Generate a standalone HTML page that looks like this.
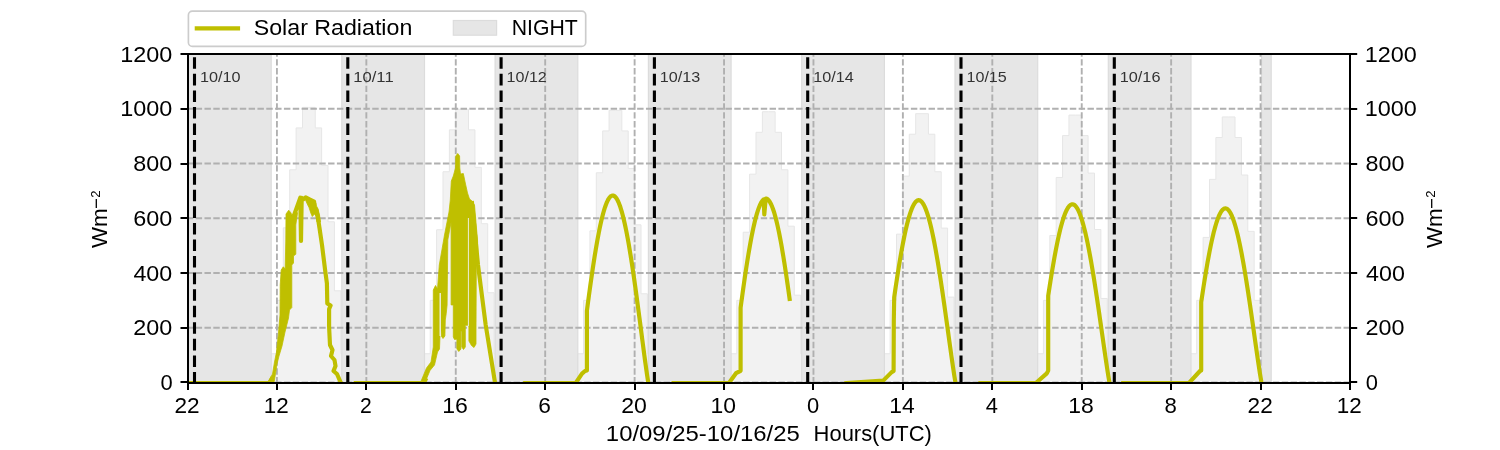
<!DOCTYPE html>
<html><head><meta charset="utf-8"><style>
html,body{margin:0;padding:0;background:#fff;width:1500px;height:450px;overflow:hidden;}
svg{display:block;will-change:transform;font-family:"Liberation Sans", sans-serif;}
</style></head><body>
<svg width="1500" height="450" viewBox="0 0 1500 450">
<rect x="0" y="0" width="1500" height="450" fill="#ffffff"/>
<defs><clipPath id="ax"><rect x="187.50" y="54.00" width="1162.50" height="328.50"/></clipPath></defs>
<g clip-path="url(#ax)">
<path d="M270.54,382.50 L270.54,353.76 L276.92,353.76 L276.92,300.38 L283.31,300.38 L283.31,227.83 L289.70,227.83 L289.70,169.80 L296.09,169.80 L296.09,127.91 L302.47,127.91 L302.47,107.38 L308.86,107.38 L308.86,107.38 L315.25,107.38 L315.25,127.91 L321.63,127.91 L321.63,165.42 L328.02,165.42 L328.02,221.81 L334.41,221.81 L334.41,290.79 L340.80,290.79 L340.80,353.76 L347.18,353.76 L347.18,382.50 Z" fill="#f2f2f2" stroke="#e6e6e6" stroke-width="1"/>
<path d="M423.83,382.50 L423.83,353.76 L430.22,353.76 L430.22,300.38 L436.61,300.38 L436.61,229.75 L442.99,229.75 L442.99,171.71 L449.38,171.71 L449.38,129.83 L455.77,129.83 L455.77,109.30 L462.16,109.30 L462.16,109.30 L468.54,109.30 L468.54,129.83 L474.93,129.83 L474.93,167.33 L481.32,167.33 L481.32,223.72 L487.71,223.72 L487.71,292.71 L494.09,292.71 L494.09,353.76 L500.48,353.76 L500.48,382.50 Z" fill="#f2f2f2" stroke="#e6e6e6" stroke-width="1"/>
<path d="M577.13,382.50 L577.13,353.76 L583.52,353.76 L583.52,300.38 L589.90,300.38 L589.90,230.84 L596.29,230.84 L596.29,172.81 L602.68,172.81 L602.68,130.92 L609.07,130.92 L609.07,110.39 L615.45,110.39 L615.45,110.39 L621.84,110.39 L621.84,130.92 L628.23,130.92 L628.23,168.43 L634.62,168.43 L634.62,224.82 L641.00,224.82 L641.00,293.81 L647.39,293.81 L647.39,353.76 L653.78,353.76 L653.78,382.50 Z" fill="#f2f2f2" stroke="#e6e6e6" stroke-width="1"/>
<path d="M730.43,382.50 L730.43,353.76 L736.81,353.76 L736.81,300.38 L743.20,300.38 L743.20,232.21 L749.59,232.21 L749.59,174.18 L755.98,174.18 L755.98,132.29 L762.36,132.29 L762.36,111.76 L768.75,111.76 L768.75,111.76 L775.14,111.76 L775.14,132.29 L781.52,132.29 L781.52,169.80 L787.91,169.80 L787.91,226.19 L794.30,226.19 L794.30,295.17 L800.69,295.17 L800.69,353.76 L807.07,353.76 L807.07,382.50 Z" fill="#f2f2f2" stroke="#e6e6e6" stroke-width="1"/>
<path d="M883.72,382.50 L883.72,353.76 L890.11,353.76 L890.11,300.38 L896.50,300.38 L896.50,234.13 L902.88,234.13 L902.88,176.09 L909.27,176.09 L909.27,134.21 L915.66,134.21 L915.66,113.68 L922.05,113.68 L922.05,113.68 L928.43,113.68 L928.43,134.21 L934.82,134.21 L934.82,171.71 L941.21,171.71 L941.21,228.10 L947.60,228.10 L947.60,297.09 L953.98,297.09 L953.98,353.76 L960.37,353.76 L960.37,382.50 Z" fill="#f2f2f2" stroke="#e6e6e6" stroke-width="1"/>
<path d="M1037.02,382.50 L1037.02,353.76 L1043.41,353.76 L1043.41,300.38 L1049.79,300.38 L1049.79,235.50 L1056.18,235.50 L1056.18,177.46 L1062.57,177.46 L1062.57,135.58 L1068.96,135.58 L1068.96,115.05 L1075.34,115.05 L1075.34,115.05 L1081.73,115.05 L1081.73,135.58 L1088.12,135.58 L1088.12,173.08 L1094.51,173.08 L1094.51,229.47 L1100.89,229.47 L1100.89,298.46 L1107.28,298.46 L1107.28,353.76 L1113.67,353.76 L1113.67,382.50 Z" fill="#f2f2f2" stroke="#e6e6e6" stroke-width="1"/>
<path d="M1190.32,382.50 L1190.32,353.76 L1196.70,353.76 L1196.70,300.38 L1203.09,300.38 L1203.09,237.41 L1209.48,237.41 L1209.48,179.38 L1215.87,179.38 L1215.87,137.49 L1222.25,137.49 L1222.25,116.96 L1228.64,116.96 L1228.64,116.96 L1235.03,116.96 L1235.03,137.49 L1241.41,137.49 L1241.41,175.00 L1247.80,175.00 L1247.80,231.39 L1254.19,231.39 L1254.19,300.38 L1260.58,300.38 L1260.58,353.76 L1266.96,353.76 L1266.96,382.50 Z" fill="#f2f2f2" stroke="#e6e6e6" stroke-width="1"/>
<rect x="188.50" y="49.00" width="82.70" height="338.50" fill="#e6e6e6" stroke="#dcdcdc" stroke-width="1.2"/>
<rect x="341.80" y="49.00" width="82.70" height="338.50" fill="#e6e6e6" stroke="#dcdcdc" stroke-width="1.2"/>
<rect x="495.10" y="49.00" width="82.70" height="338.50" fill="#e6e6e6" stroke="#dcdcdc" stroke-width="1.2"/>
<rect x="648.40" y="49.00" width="82.70" height="338.50" fill="#e6e6e6" stroke="#dcdcdc" stroke-width="1.2"/>
<rect x="801.70" y="49.00" width="82.70" height="338.50" fill="#e6e6e6" stroke="#dcdcdc" stroke-width="1.2"/>
<rect x="955.00" y="49.00" width="82.70" height="338.50" fill="#e6e6e6" stroke="#dcdcdc" stroke-width="1.2"/>
<rect x="1108.30" y="49.00" width="82.70" height="338.50" fill="#e6e6e6" stroke="#dcdcdc" stroke-width="1.2"/>
<rect x="1261.60" y="49.00" width="9.60" height="338.50" fill="#e6e6e6" stroke="#dcdcdc" stroke-width="1.2"/>
<line x1="187.50" y1="382.50" x2="1350.00" y2="382.50" stroke="#b0b0b0" stroke-width="1.9" stroke-dasharray="6.45 2.38" stroke-dashoffset="0.7"/>
<line x1="187.50" y1="327.75" x2="1350.00" y2="327.75" stroke="#b0b0b0" stroke-width="1.9" stroke-dasharray="6.45 2.38" stroke-dashoffset="0.7"/>
<line x1="187.50" y1="273.00" x2="1350.00" y2="273.00" stroke="#b0b0b0" stroke-width="1.9" stroke-dasharray="6.45 2.38" stroke-dashoffset="0.7"/>
<line x1="187.50" y1="218.25" x2="1350.00" y2="218.25" stroke="#b0b0b0" stroke-width="1.9" stroke-dasharray="6.45 2.38" stroke-dashoffset="0.7"/>
<line x1="187.50" y1="163.50" x2="1350.00" y2="163.50" stroke="#b0b0b0" stroke-width="1.9" stroke-dasharray="6.45 2.38" stroke-dashoffset="0.7"/>
<line x1="187.50" y1="108.75" x2="1350.00" y2="108.75" stroke="#b0b0b0" stroke-width="1.9" stroke-dasharray="6.45 2.38" stroke-dashoffset="0.7"/>
<line x1="187.50" y1="54.00" x2="1350.00" y2="54.00" stroke="#b0b0b0" stroke-width="1.9" stroke-dasharray="6.45 2.38" stroke-dashoffset="0.7"/>
<line x1="187.50" y1="382.50" x2="187.50" y2="54.00" stroke="#b0b0b0" stroke-width="1.9" stroke-dasharray="6.45 2.38" stroke-dashoffset="1.0"/>
<line x1="276.92" y1="382.50" x2="276.92" y2="54.00" stroke="#b0b0b0" stroke-width="1.9" stroke-dasharray="6.45 2.38" stroke-dashoffset="1.0"/>
<line x1="366.35" y1="382.50" x2="366.35" y2="54.00" stroke="#b0b0b0" stroke-width="1.9" stroke-dasharray="6.45 2.38" stroke-dashoffset="1.0"/>
<line x1="455.77" y1="382.50" x2="455.77" y2="54.00" stroke="#b0b0b0" stroke-width="1.9" stroke-dasharray="6.45 2.38" stroke-dashoffset="1.0"/>
<line x1="545.19" y1="382.50" x2="545.19" y2="54.00" stroke="#b0b0b0" stroke-width="1.9" stroke-dasharray="6.45 2.38" stroke-dashoffset="1.0"/>
<line x1="634.62" y1="382.50" x2="634.62" y2="54.00" stroke="#b0b0b0" stroke-width="1.9" stroke-dasharray="6.45 2.38" stroke-dashoffset="1.0"/>
<line x1="724.04" y1="382.50" x2="724.04" y2="54.00" stroke="#b0b0b0" stroke-width="1.9" stroke-dasharray="6.45 2.38" stroke-dashoffset="1.0"/>
<line x1="813.46" y1="382.50" x2="813.46" y2="54.00" stroke="#b0b0b0" stroke-width="1.9" stroke-dasharray="6.45 2.38" stroke-dashoffset="1.0"/>
<line x1="902.88" y1="382.50" x2="902.88" y2="54.00" stroke="#b0b0b0" stroke-width="1.9" stroke-dasharray="6.45 2.38" stroke-dashoffset="1.0"/>
<line x1="992.31" y1="382.50" x2="992.31" y2="54.00" stroke="#b0b0b0" stroke-width="1.9" stroke-dasharray="6.45 2.38" stroke-dashoffset="1.0"/>
<line x1="1081.73" y1="382.50" x2="1081.73" y2="54.00" stroke="#b0b0b0" stroke-width="1.9" stroke-dasharray="6.45 2.38" stroke-dashoffset="1.0"/>
<line x1="1171.15" y1="382.50" x2="1171.15" y2="54.00" stroke="#b0b0b0" stroke-width="1.9" stroke-dasharray="6.45 2.38" stroke-dashoffset="1.0"/>
<line x1="1260.58" y1="382.50" x2="1260.58" y2="54.00" stroke="#b0b0b0" stroke-width="1.9" stroke-dasharray="6.45 2.38" stroke-dashoffset="1.0"/>
<line x1="1350.00" y1="382.50" x2="1350.00" y2="54.00" stroke="#b0b0b0" stroke-width="1.9" stroke-dasharray="6.45 2.38" stroke-dashoffset="1.0"/>
<path d="M268.00,382.50 L272.50,374.00 L274.50,362.00 L276.50,352.00 L278.30,335.00 L280.00,315.00 L280.20,285.00 L281.20,270.00 L283.30,266.80 L285.20,269.00 L285.80,240.00 L286.00,214.00 L288.70,210.20 L290.70,212.50 L292.20,215.50 L293.80,213.00 L295.80,210.50 L297.50,213.00 L295.80,225.00 L295.80,254.20 L293.50,256.00 L293.50,263.00 L291.80,265.00 L291.80,307.60 L289.50,310.00 L288.50,318.00 L285.00,332.00 L282.00,346.00 L279.00,356.00 L277.00,364.00 L274.50,380.00 L274.00,382.50 Z" fill="#bfbf00" stroke="#bfbf00" stroke-width="0.8" stroke-linejoin="round"/>
<path d="M304.00,196.50 L306.50,196.80 L309.00,198.20 L312.00,200.20 L314.50,201.20 L316.00,202.50 L316.50,206.00 L318.00,209.00 L319.50,215.00 L320.50,222.00 L317.00,222.00 L316.00,216.00 L314.50,214.00 L312.30,216.50 L310.80,213.00 L309.00,207.50 L307.00,203.50 L305.50,200.00 Z" fill="#bfbf00" stroke="#bfbf00" stroke-width="0.8" stroke-linejoin="round"/>
<path d="M420.50,382.50 L426.50,368.00 L431.00,362.00 L433.30,347.00 L433.30,290.00 L435.50,285.50 L437.50,289.00 L439.30,265.00 L444.50,235.00 L449.00,212.00 L450.30,200.00 L451.30,181.00 L453.30,176.00 L455.50,168.00 L455.80,156.00 L457.70,153.50 L459.60,156.00 L459.80,168.00 L460.50,174.00 L463.30,173.50 L465.50,184.00 L467.50,193.00 L469.50,199.00 L472.00,201.00 L474.50,205.00 L477.50,240.00 L478.20,262.00 L476.30,265.00 L476.00,330.00 L476.00,344.00 L474.00,347.50 L471.50,345.50 L468.90,341.00 L468.90,326.00 L467.60,325.30 L465.30,325.30 L465.30,347.00 L463.50,349.50 L461.80,347.00 L461.80,331.00 L460.90,331.00 L460.90,349.00 L458.80,351.50 L456.90,349.00 L456.90,339.00 L454.50,339.50 L453.30,337.00 L453.30,305.00 L451.10,304.90 L451.10,222.00 L447.80,240.00 L447.10,305.00 L446.20,313.80 L445.30,320.00 L444.90,336.00 L443.00,338.50 L441.30,336.00 L440.50,322.00 L439.50,349.00 L437.50,352.00 L434.50,365.00 L430.00,370.50 L425.00,382.50 Z" fill="#bfbf00" stroke="#bfbf00" stroke-width="0.8" stroke-linejoin="round"/>
<line x1="468.4" y1="218" x2="468.4" y2="326" stroke="#f2f2f2" stroke-width="0.9"/>
<line x1="440.2" y1="293" x2="440.2" y2="336" stroke="#f2f2f2" stroke-width="1.3"/>
<path d="M188.00,383.20 L269.00,383.20 L271.50,379.00" fill="none" stroke="#bfbf00" stroke-width="4.17" stroke-linejoin="round" stroke-linecap="square"/>
<path d="M294.50,214.00 L300.30,197.60 L301.00,241.00 L301.70,197.80 L303.20,199.50 L305.70,197.40 L310.00,199.50 L314.10,201.60 L312.80,211.30 L316.30,209.60 L317.70,216.70 L319.40,227.30 L322.00,245.00 L325.10,270.00 L326.90,283.30 L327.30,303.50 L330.60,305.50 L329.10,309.00 L329.10,327.00 L330.00,345.00 L332.50,350.00 L331.00,356.00 L334.50,360.00 L335.50,366.00 L333.50,371.00 L337.00,374.00 L341.00,383.20" fill="none" stroke="#bfbf00" stroke-width="4.17" stroke-linejoin="round" stroke-linecap="square"/>
<path d="M355.80,383.20 L423.80,383.20 L425.40,380.00" fill="none" stroke="#bfbf00" stroke-width="4.17" stroke-linejoin="round" stroke-linecap="square"/>
<path d="M472.00,203.00 L478.00,265.00 L485.70,325.00 L495.10,383.20" fill="none" stroke="#bfbf00" stroke-width="4.17" stroke-linejoin="round" stroke-linecap="square"/>
<path d="M525.20,383.20 L575.60,383.20 L582.00,373.60 L585.00,371.00 L586.90,370.50 L586.90,310.67 L587.60,305.41 L588.30,300.19 L589.00,295.03 L589.70,289.93 L590.40,284.91 L591.10,279.96 L591.80,275.11 L592.50,270.34 L593.20,265.67 L593.90,261.11 L594.60,256.67 L595.30,252.34 L596.00,248.13 L596.70,244.05 L597.40,240.11 L598.10,236.31 L598.80,232.65 L599.50,229.14 L600.20,225.79 L600.90,222.59 L601.60,219.56 L602.30,216.69 L603.00,213.99 L603.70,211.47 L604.40,209.12 L605.10,206.95 L605.80,204.97 L606.50,203.16 L607.20,201.55 L607.90,200.12 L608.60,198.88 L609.30,197.84 L610.00,196.99 L610.70,196.33 L611.40,195.87 L612.10,195.60 L612.80,195.53 L613.50,195.66 L614.20,195.98 L614.90,196.50 L615.60,197.21 L616.30,198.12 L617.00,199.22 L617.70,200.51 L618.40,201.99 L619.10,203.66 L619.80,205.51 L620.50,207.55 L621.20,209.77 L621.90,212.17 L622.60,214.75 L623.30,217.49 L624.00,220.41 L624.70,223.49 L625.40,226.73 L626.10,230.13 L626.80,233.68 L627.50,237.38 L628.20,241.22 L628.90,245.20 L629.60,249.32 L630.30,253.56 L631.00,257.92 L631.70,262.41 L632.40,267.00 L633.10,271.69 L633.80,276.48 L634.50,281.37 L635.20,286.34 L635.90,291.38 L636.60,296.50 L637.30,301.68 L638.00,306.91 L638.70,312.19 L639.40,317.50 L640.10,322.85 L640.80,328.21 L641.50,333.58 L642.20,338.95 L642.90,344.30 L643.60,349.63 L644.30,354.91 L645.00,360.13 L645.70,365.27 L646.40,370.28 L647.10,375.12 L647.80,379.68 L648.30,383.20" fill="none" stroke="#bfbf00" stroke-width="4.17" stroke-linejoin="round" stroke-linecap="square"/>
<path d="M673.60,383.20 L728.80,383.20 L736.00,373.20 L740.60,370.80 L740.60,307.70 L741.30,302.52 L742.00,297.41 L742.70,292.35 L743.40,287.37 L744.10,282.46 L744.80,277.64 L745.50,272.90 L746.20,268.27 L746.90,263.74 L747.60,259.32 L748.30,255.02 L749.00,250.84 L749.70,246.79 L750.40,242.88 L751.10,239.10 L751.80,235.46 L752.50,231.97 L753.20,228.64 L753.90,225.46 L754.60,222.44 L755.30,219.59 L756.00,216.91 L756.70,214.40 L757.40,212.06 L758.10,209.91 L758.80,207.93 L759.50,206.14 L760.20,204.53 L760.90,203.11 L761.60,201.88 L762.30,200.84 L763.00,199.99 L763.70,199.34 L764.30,214.50 L765.60,199.50 L765.80,198.54 L766.50,198.67 L767.20,198.99 L767.90,199.50 L768.60,200.21 L769.30,201.11 L770.00,202.21 L770.70,203.49 L771.40,204.97 L772.10,206.63 L772.80,208.47 L773.50,210.50 L774.20,212.71 L774.90,215.10 L775.60,217.66 L776.30,220.39 L777.00,223.29 L777.70,226.35 L778.40,229.58 L779.10,232.95 L779.80,236.48 L780.50,240.16 L781.20,243.98 L781.90,247.94 L782.60,252.03 L783.30,256.24 L784.00,260.57 L784.70,265.03 L785.40,269.58 L786.10,274.25 L786.80,279.00 L787.50,283.85 L788.20,288.78 L788.90,293.79 L789.60,298.86" fill="none" stroke="#bfbf00" stroke-width="4.17" stroke-linejoin="round" stroke-linecap="square"/>
<path d="M846.40,383.20 L883.20,380.60 L891.20,372.60 L893.60,371.00 L893.80,320.60 L894.20,297.22 L894.90,292.41 L895.60,287.66 L896.30,282.99 L897.00,278.40 L897.70,273.89 L898.40,269.47 L899.10,265.15 L899.80,260.92 L900.50,256.81 L901.20,252.80 L901.90,248.92 L902.60,245.15 L903.30,241.51 L904.00,238.00 L904.70,234.62 L905.40,231.38 L906.10,228.29 L906.80,225.34 L907.50,222.54 L908.20,219.89 L908.90,217.40 L909.60,215.07 L910.30,212.89 L911.00,210.89 L911.70,209.05 L912.40,207.38 L913.10,205.88 L913.80,204.55 L914.50,203.39 L915.20,202.42 L915.90,201.61 L916.60,200.99 L917.30,200.54 L918.00,200.27 L918.70,200.18 L919.40,200.27 L920.10,200.54 L920.80,200.99 L921.50,201.61 L922.20,202.42 L922.90,203.39 L923.60,204.55 L924.30,205.88 L925.00,207.38 L925.70,209.05 L926.40,210.89 L927.10,212.89 L927.80,215.07 L928.50,217.40 L929.20,219.89 L929.90,222.54 L930.60,225.34 L931.30,228.29 L932.00,231.38 L932.70,234.62 L933.40,238.00 L934.10,241.51 L934.80,245.15 L935.50,248.92 L936.20,252.80 L936.90,256.81 L937.60,260.92 L938.30,265.15 L939.00,269.47 L939.70,273.89 L940.40,278.40 L941.10,282.99 L941.80,287.66 L942.50,292.41 L943.20,297.22 L943.90,302.08 L944.60,307.00 L945.30,311.97 L946.00,316.97 L946.70,322.00 L947.40,327.05 L948.10,332.11 L948.80,337.18 L949.50,342.24 L950.20,347.28 L950.90,352.29 L951.60,357.26 L952.30,362.16 L953.00,366.98 L953.70,371.67 L954.40,376.20 L955.10,380.43 L955.50,383.20" fill="none" stroke="#bfbf00" stroke-width="4.17" stroke-linejoin="round" stroke-linecap="square"/>
<path d="M980.40,383.20 L1035.60,383.20 L1046.80,373.40 L1048.20,370.60 L1048.20,295.80 L1048.90,291.18 L1049.60,286.63 L1050.30,282.15 L1051.00,277.76 L1051.70,273.44 L1052.40,269.22 L1053.10,265.09 L1053.80,261.06 L1054.50,257.14 L1055.20,253.33 L1055.90,249.63 L1056.60,246.05 L1057.30,242.60 L1058.00,239.27 L1058.70,236.08 L1059.40,233.02 L1060.10,230.10 L1060.80,227.32 L1061.50,224.69 L1062.20,222.20 L1062.90,219.87 L1063.60,217.69 L1064.30,215.67 L1065.00,213.81 L1065.70,212.11 L1066.40,210.57 L1067.10,209.20 L1067.80,207.99 L1068.50,206.95 L1069.20,206.08 L1069.90,205.39 L1070.60,204.86 L1071.30,204.50 L1072.00,204.32 L1072.70,204.30 L1073.40,204.46 L1074.10,204.80 L1074.80,205.30 L1075.50,205.97 L1076.20,206.82 L1076.90,207.83 L1077.60,209.01 L1078.30,210.36 L1079.00,211.88 L1079.70,213.56 L1080.40,215.39 L1081.10,217.39 L1081.80,219.55 L1082.50,221.86 L1083.20,224.32 L1083.90,226.93 L1084.60,229.69 L1085.30,232.59 L1086.00,235.63 L1086.70,238.81 L1087.40,242.12 L1088.10,245.55 L1088.80,249.11 L1089.50,252.79 L1090.20,256.59 L1090.90,260.49 L1091.60,264.51 L1092.30,268.62 L1093.00,272.83 L1093.70,277.13 L1094.40,281.52 L1095.10,285.99 L1095.80,290.53 L1096.50,295.14 L1097.20,299.81 L1097.90,304.54 L1098.60,309.31 L1099.30,314.13 L1100.00,318.98 L1100.70,323.86 L1101.40,328.76 L1102.10,333.67 L1102.80,338.58 L1103.50,343.49 L1104.20,348.38 L1104.90,353.23 L1105.60,358.05 L1106.30,362.80 L1107.00,367.46 L1107.70,372.01 L1108.40,376.39 L1109.10,380.49 L1109.50,383.20" fill="none" stroke="#bfbf00" stroke-width="4.17" stroke-linejoin="round" stroke-linecap="square"/>
<path d="M1123.20,383.20 L1188.80,383.20 L1200.00,371.00 L1201.20,370.60 L1201.20,302.18 L1201.90,297.48 L1202.60,292.85 L1203.30,288.29 L1204.00,283.80 L1204.70,279.40 L1205.40,275.09 L1206.10,270.87 L1206.80,266.75 L1207.50,262.73 L1208.20,258.83 L1208.90,255.04 L1209.60,251.37 L1210.30,247.82 L1211.00,244.41 L1211.70,241.13 L1212.40,237.98 L1213.10,234.98 L1213.80,232.12 L1214.50,229.41 L1215.20,226.86 L1215.90,224.46 L1216.60,222.21 L1217.30,220.13 L1218.00,218.21 L1218.70,216.46 L1219.40,214.87 L1220.10,213.46 L1220.80,212.21 L1221.50,211.14 L1222.20,210.25 L1222.90,209.53 L1223.60,208.98 L1224.30,208.61 L1225.00,208.42 L1225.70,208.41 L1226.40,208.58 L1227.10,208.92 L1227.80,209.44 L1228.50,210.13 L1229.20,211.01 L1229.90,212.05 L1230.60,213.27 L1231.30,214.66 L1232.00,216.22 L1232.70,217.95 L1233.40,219.85 L1234.10,221.91 L1234.80,224.13 L1235.50,226.50 L1236.20,229.04 L1236.90,231.73 L1237.60,234.56 L1238.30,237.54 L1239.00,240.67 L1239.70,243.93 L1240.40,247.33 L1241.10,250.85 L1241.80,254.51 L1242.50,258.28 L1243.20,262.17 L1243.90,266.17 L1244.60,270.27 L1245.30,274.48 L1246.00,278.78 L1246.70,283.17 L1247.40,287.64 L1248.10,292.19 L1248.80,296.82 L1249.50,301.50 L1250.20,306.25 L1250.90,311.04 L1251.60,315.88 L1252.30,320.75 L1253.00,325.65 L1253.70,330.57 L1254.40,335.51 L1255.10,340.44 L1255.80,345.36 L1256.50,350.26 L1257.20,355.13 L1257.90,359.94 L1258.60,364.69 L1259.30,369.34 L1260.00,373.86 L1260.70,378.17 L1261.40,382.06 L1261.50,383.20" fill="none" stroke="#bfbf00" stroke-width="4.17" stroke-linejoin="round" stroke-linecap="square"/>
<line x1="194.50" y1="382.50" x2="194.50" y2="54.00" stroke="#000" stroke-width="3.1" stroke-dasharray="11.56 5.0" stroke-dashoffset="1.0"/>
<line x1="347.80" y1="382.50" x2="347.80" y2="54.00" stroke="#000" stroke-width="3.1" stroke-dasharray="11.56 5.0" stroke-dashoffset="1.0"/>
<line x1="501.10" y1="382.50" x2="501.10" y2="54.00" stroke="#000" stroke-width="3.1" stroke-dasharray="11.56 5.0" stroke-dashoffset="1.0"/>
<line x1="654.40" y1="382.50" x2="654.40" y2="54.00" stroke="#000" stroke-width="3.1" stroke-dasharray="11.56 5.0" stroke-dashoffset="1.0"/>
<line x1="807.70" y1="382.50" x2="807.70" y2="54.00" stroke="#000" stroke-width="3.1" stroke-dasharray="11.56 5.0" stroke-dashoffset="1.0"/>
<line x1="961.00" y1="382.50" x2="961.00" y2="54.00" stroke="#000" stroke-width="3.1" stroke-dasharray="11.56 5.0" stroke-dashoffset="1.0"/>
<line x1="1114.30" y1="382.50" x2="1114.30" y2="54.00" stroke="#000" stroke-width="3.1" stroke-dasharray="11.56 5.0" stroke-dashoffset="1.0"/>
</g>
<text x="199.97" y="81.90" font-family="Liberation Sans, sans-serif" font-size="14.30" textLength="40.57" lengthAdjust="spacingAndGlyphs" xml:space="preserve" fill="#333333">10/10</text>
<text x="353.24" y="81.90" font-family="Liberation Sans, sans-serif" font-size="14.30" textLength="40.41" lengthAdjust="spacingAndGlyphs" xml:space="preserve" fill="#333333">10/11</text>
<text x="506.58" y="81.90" font-family="Liberation Sans, sans-serif" font-size="14.30" textLength="40.24" lengthAdjust="spacingAndGlyphs" xml:space="preserve" fill="#333333">10/12</text>
<text x="659.87" y="81.90" font-family="Liberation Sans, sans-serif" font-size="14.30" textLength="40.44" lengthAdjust="spacingAndGlyphs" xml:space="preserve" fill="#333333">10/13</text>
<text x="813.17" y="81.90" font-family="Liberation Sans, sans-serif" font-size="14.30" textLength="40.55" lengthAdjust="spacingAndGlyphs" xml:space="preserve" fill="#333333">10/14</text>
<text x="966.48" y="81.90" font-family="Liberation Sans, sans-serif" font-size="14.30" textLength="40.30" lengthAdjust="spacingAndGlyphs" xml:space="preserve" fill="#333333">10/15</text>
<text x="1119.76" y="81.90" font-family="Liberation Sans, sans-serif" font-size="14.30" textLength="40.70" lengthAdjust="spacingAndGlyphs" xml:space="preserve" fill="#333333">10/16</text>
<line x1="187" y1="54" x2="1351" y2="54" stroke="#000" stroke-width="2"/>
<line x1="187" y1="383" x2="1351" y2="383" stroke="#000" stroke-width="2"/>
<line x1="188" y1="53" x2="188" y2="384" stroke="#000" stroke-width="2"/>
<line x1="1350" y1="53" x2="1350" y2="384" stroke="#000" stroke-width="2"/>
<line x1="180.5" y1="382" x2="188" y2="382" stroke="#000" stroke-width="2"/>
<line x1="1350" y1="382" x2="1357.2" y2="382" stroke="#000" stroke-width="2"/>
<line x1="180.5" y1="328" x2="188" y2="328" stroke="#000" stroke-width="2"/>
<line x1="1350" y1="328" x2="1357.2" y2="328" stroke="#000" stroke-width="2"/>
<line x1="180.5" y1="273" x2="188" y2="273" stroke="#000" stroke-width="2"/>
<line x1="1350" y1="273" x2="1357.2" y2="273" stroke="#000" stroke-width="2"/>
<line x1="180.5" y1="218" x2="188" y2="218" stroke="#000" stroke-width="2"/>
<line x1="1350" y1="218" x2="1357.2" y2="218" stroke="#000" stroke-width="2"/>
<line x1="180.5" y1="164" x2="188" y2="164" stroke="#000" stroke-width="2"/>
<line x1="1350" y1="164" x2="1357.2" y2="164" stroke="#000" stroke-width="2"/>
<line x1="180.5" y1="109" x2="188" y2="109" stroke="#000" stroke-width="2"/>
<line x1="1350" y1="109" x2="1357.2" y2="109" stroke="#000" stroke-width="2"/>
<line x1="180.5" y1="54" x2="188" y2="54" stroke="#000" stroke-width="2"/>
<line x1="1350" y1="54" x2="1357.2" y2="54" stroke="#000" stroke-width="2"/>
<line x1="188" y1="383" x2="188" y2="390" stroke="#000" stroke-width="2"/>
<line x1="277" y1="383" x2="277" y2="390" stroke="#000" stroke-width="2"/>
<line x1="366" y1="383" x2="366" y2="390" stroke="#000" stroke-width="2"/>
<line x1="456" y1="383" x2="456" y2="390" stroke="#000" stroke-width="2"/>
<line x1="545" y1="383" x2="545" y2="390" stroke="#000" stroke-width="2"/>
<line x1="635" y1="383" x2="635" y2="390" stroke="#000" stroke-width="2"/>
<line x1="724" y1="383" x2="724" y2="390" stroke="#000" stroke-width="2"/>
<line x1="813" y1="383" x2="813" y2="390" stroke="#000" stroke-width="2"/>
<line x1="903" y1="383" x2="903" y2="390" stroke="#000" stroke-width="2"/>
<line x1="992" y1="383" x2="992" y2="390" stroke="#000" stroke-width="2"/>
<line x1="1082" y1="383" x2="1082" y2="390" stroke="#000" stroke-width="2"/>
<line x1="1171" y1="383" x2="1171" y2="390" stroke="#000" stroke-width="2"/>
<line x1="1261" y1="383" x2="1261" y2="390" stroke="#000" stroke-width="2"/>
<line x1="1350" y1="383" x2="1350" y2="390" stroke="#000" stroke-width="2"/>
<text x="160.44" y="390.10" font-family="Liberation Sans, sans-serif" font-size="21.76" textLength="12.22" lengthAdjust="spacingAndGlyphs" xml:space="preserve" >0</text>
<text x="1365.74" y="390.10" font-family="Liberation Sans, sans-serif" font-size="21.76" textLength="12.22" lengthAdjust="spacingAndGlyphs" xml:space="preserve" >0</text>
<text x="133.28" y="335.35" font-family="Liberation Sans, sans-serif" font-size="21.76" textLength="38.94" lengthAdjust="spacingAndGlyphs" xml:space="preserve" >200</text>
<text x="1365.43" y="335.35" font-family="Liberation Sans, sans-serif" font-size="21.76" textLength="38.94" lengthAdjust="spacingAndGlyphs" xml:space="preserve" >200</text>
<text x="133.41" y="280.60" font-family="Liberation Sans, sans-serif" font-size="21.76" textLength="38.81" lengthAdjust="spacingAndGlyphs" xml:space="preserve" >400</text>
<text x="1366.07" y="280.60" font-family="Liberation Sans, sans-serif" font-size="21.76" textLength="38.81" lengthAdjust="spacingAndGlyphs" xml:space="preserve" >400</text>
<text x="133.19" y="225.85" font-family="Liberation Sans, sans-serif" font-size="21.76" textLength="39.03" lengthAdjust="spacingAndGlyphs" xml:space="preserve" >600</text>
<text x="1365.41" y="225.85" font-family="Liberation Sans, sans-serif" font-size="21.76" textLength="39.03" lengthAdjust="spacingAndGlyphs" xml:space="preserve" >600</text>
<text x="133.34" y="171.10" font-family="Liberation Sans, sans-serif" font-size="21.76" textLength="38.88" lengthAdjust="spacingAndGlyphs" xml:space="preserve" >800</text>
<text x="1365.60" y="171.10" font-family="Liberation Sans, sans-serif" font-size="21.76" textLength="38.88" lengthAdjust="spacingAndGlyphs" xml:space="preserve" >800</text>
<text x="120.17" y="116.35" font-family="Liberation Sans, sans-serif" font-size="21.76" textLength="52.06" lengthAdjust="spacingAndGlyphs" xml:space="preserve" >1000</text>
<text x="1364.82" y="116.35" font-family="Liberation Sans, sans-serif" font-size="21.76" textLength="52.06" lengthAdjust="spacingAndGlyphs" xml:space="preserve" >1000</text>
<text x="120.17" y="61.60" font-family="Liberation Sans, sans-serif" font-size="21.76" textLength="52.06" lengthAdjust="spacingAndGlyphs" xml:space="preserve" >1200</text>
<text x="1364.82" y="61.60" font-family="Liberation Sans, sans-serif" font-size="21.76" textLength="52.06" lengthAdjust="spacingAndGlyphs" xml:space="preserve" >1200</text>
<text x="174.52" y="412.70" font-family="Liberation Sans, sans-serif" font-size="21.76" textLength="25.16" lengthAdjust="spacingAndGlyphs" xml:space="preserve" >22</text>
<text x="263.76" y="412.70" font-family="Liberation Sans, sans-serif" font-size="21.76" textLength="24.96" lengthAdjust="spacingAndGlyphs" xml:space="preserve" >12</text>
<text x="360.07" y="412.70" font-family="Liberation Sans, sans-serif" font-size="21.76" textLength="11.76" lengthAdjust="spacingAndGlyphs" xml:space="preserve" >2</text>
<text x="442.17" y="412.70" font-family="Liberation Sans, sans-serif" font-size="21.76" textLength="25.67" lengthAdjust="spacingAndGlyphs" xml:space="preserve" >16</text>
<text x="538.39" y="412.70" font-family="Liberation Sans, sans-serif" font-size="21.76" textLength="12.64" lengthAdjust="spacingAndGlyphs" xml:space="preserve" >6</text>
<text x="621.26" y="412.70" font-family="Liberation Sans, sans-serif" font-size="21.76" textLength="25.66" lengthAdjust="spacingAndGlyphs" xml:space="preserve" >20</text>
<text x="710.48" y="412.70" font-family="Liberation Sans, sans-serif" font-size="21.76" textLength="25.47" lengthAdjust="spacingAndGlyphs" xml:space="preserve" >10</text>
<text x="806.95" y="412.70" font-family="Liberation Sans, sans-serif" font-size="21.76" textLength="12.22" lengthAdjust="spacingAndGlyphs" xml:space="preserve" >0</text>
<text x="889.23" y="412.70" font-family="Liberation Sans, sans-serif" font-size="21.76" textLength="25.45" lengthAdjust="spacingAndGlyphs" xml:space="preserve" >14</text>
<text x="985.87" y="412.70" font-family="Liberation Sans, sans-serif" font-size="21.76" textLength="12.21" lengthAdjust="spacingAndGlyphs" xml:space="preserve" >4</text>
<text x="1068.19" y="412.70" font-family="Liberation Sans, sans-serif" font-size="21.76" textLength="25.53" lengthAdjust="spacingAndGlyphs" xml:space="preserve" >18</text>
<text x="1164.59" y="412.70" font-family="Liberation Sans, sans-serif" font-size="21.76" textLength="12.33" lengthAdjust="spacingAndGlyphs" xml:space="preserve" >8</text>
<text x="1247.60" y="412.70" font-family="Liberation Sans, sans-serif" font-size="21.76" textLength="25.16" lengthAdjust="spacingAndGlyphs" xml:space="preserve" >22</text>
<text x="1336.83" y="412.70" font-family="Liberation Sans, sans-serif" font-size="21.76" textLength="24.96" lengthAdjust="spacingAndGlyphs" xml:space="preserve" >12</text>
<text x="605.88" y="440.60" font-family="Liberation Sans, sans-serif" font-size="21.76" textLength="193.92" lengthAdjust="spacingAndGlyphs" xml:space="preserve" >10/09/25-10/16/25</text>
<text x="813.60" y="440.60" font-family="Liberation Sans, sans-serif" font-size="21.76" textLength="118.25" lengthAdjust="spacingAndGlyphs" xml:space="preserve" >Hours(UTC)</text>
<g transform="translate(106.80,248) rotate(-90)">
<text x="-0.11" y="0.00" font-family="Liberation Sans, sans-serif" font-size="22.00" textLength="39.79" lengthAdjust="spacingAndGlyphs" xml:space="preserve" >Wm</text>
<rect x="40" y="-11.15" width="9" height="1.3" fill="#000"/>
<text x="50.34" y="-7.30" font-family="Liberation Sans, sans-serif" font-size="12.40" textLength="7.32" lengthAdjust="spacingAndGlyphs" xml:space="preserve" >2</text>
</g>
<g transform="translate(1442.20,248) rotate(-90)">
<text x="-0.11" y="0.00" font-family="Liberation Sans, sans-serif" font-size="22.00" textLength="39.79" lengthAdjust="spacingAndGlyphs" xml:space="preserve" >Wm</text>
<rect x="40" y="-11.15" width="9" height="1.3" fill="#000"/>
<text x="50.34" y="-7.30" font-family="Liberation Sans, sans-serif" font-size="12.40" textLength="7.32" lengthAdjust="spacingAndGlyphs" xml:space="preserve" >2</text>
</g>
<rect x="188.4" y="11.1" width="397.3" height="35.3" rx="4" ry="4" fill="#ffffff" fill-opacity="0.8" stroke="#cccccc" stroke-width="1.67"/>
<line x1="196.8" y1="28.3" x2="238.0" y2="28.3" stroke="#bfbf00" stroke-width="4.17" stroke-linecap="square"/>
<text x="253.73" y="35.20" font-family="Liberation Sans, sans-serif" font-size="22.00" textLength="158.58" lengthAdjust="spacingAndGlyphs" xml:space="preserve" >Solar Radiation</text>
<rect x="453.3" y="20.5" width="43.3" height="14.7" fill="#e6e6e6" stroke="#dcdcdc" stroke-width="1.2"/>
<text x="511.76" y="35.20" font-family="Liberation Sans, sans-serif" font-size="22.00" textLength="66.03" lengthAdjust="spacingAndGlyphs" xml:space="preserve" >NIGHT</text>
</svg>
</body></html>
